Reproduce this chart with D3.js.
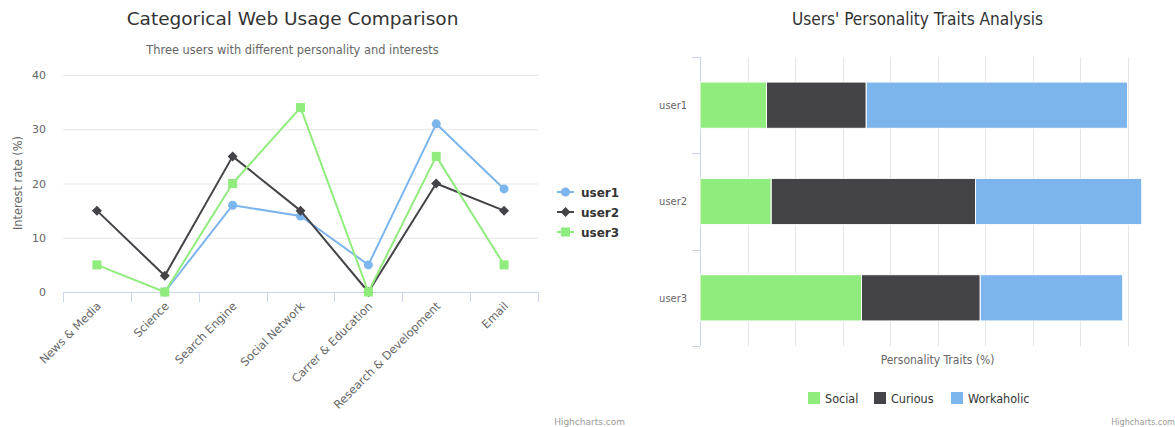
<!DOCTYPE html>
<html><head><meta charset="utf-8">
<script src="https://cdn.jsdelivr.net/npm/d3@7"></script>
<style>
  body { margin: 0; background: #fff; }
  svg text { font-family: "DejaVu Sans", sans-serif; }
  .narrow text { font-family: "DejaVu Sans Condensed", "DejaVu Sans", sans-serif; }
</style>
</head>
<body>
<svg id="chart" width="1175" height="427"></svg>
<script>
// ---- Line chart data: interest rate (%) per web category ----
const categories = ["News & Media", "Science", "Search Engine", "Social Network",
                    "Carrer & Education", "Research & Development", "Email"];
const user1Interest = [null, 0, 16, 14, 5, 31, 19];
const user2Interest = [15, 3, 25, 15, 0, 20, 15];
const user3Interest = [5, 0, 20, 34, 0, 25, 5];
const interestTicks = [0, 10, 20, 30, 40];
const userNames = ["user1", "user2", "user3"];

// ---- Stacked bar data: personality traits (%) per user ----
const traitNames = ["Social", "Curious", "Workaholic"];
const socialTrait = [14, 15, 34];
const curiousTrait = [21, 43, 25];
const workaholicTrait = [55, 35, 30];
const traitTicks = [0, 10, 20, 30, 40, 50, 60, 70, 80, 90, 100];

const seriesColors = ["#7cb5ec", "#434348", "#90ed7d"];
const traitColors = ["#90ed7d", "#434348", "#7cb5ec"];

const svg = d3.select("#chart");

/* ================= Left: line chart ================= */
const L = svg.append("g");
L.append("text").attr("x", 292.5).attr("y", 25).attr("text-anchor", "middle")
  .attr("font-size", 18.5).attr("fill", "#333333").text("Categorical Web Usage Comparison");
L.append("text").attr("x", 292.5).attr("y", 54).attr("text-anchor", "middle")
  .attr("font-size", 11.4).attr("fill", "#666666").text("Three users with different personality and interests");

const x = d3.scaleBand().domain(categories).range([63, 538]).padding(0);
const y = d3.scaleLinear().domain([0, 40]).range([292, 75]);

// horizontal gridlines
L.append("g").selectAll("line").data(interestTicks.filter(t => t > 0)).join("line")
  .attr("x1", 63).attr("x2", 538).attr("y1", d => y(d) + 0.5).attr("y2", d => y(d) + 0.5)
  .attr("stroke", "#e6e6e6").attr("stroke-width", 1);

// y axis labels
const yAxis = d3.axisLeft(y).tickValues(interestTicks).tickSize(0).tickPadding(0);
const yg = L.append("g").attr("transform", "translate(46,0)").call(yAxis);
yg.select(".domain").remove();
yg.selectAll("text").attr("font-size", 11).attr("fill", "#666666").attr("font-family", "DejaVu Sans");

L.append("text").attr("transform", "translate(22,183) rotate(-90)").attr("text-anchor", "middle")
  .attr("font-size", 11.4).attr("fill", "#666666").text("Interest rate (%)");

// x axis line, ticks at category boundaries
L.append("line").attr("x1", 63).attr("x2", 538).attr("y1", 292.5).attr("y2", 292.5)
  .attr("stroke", "#ccd6eb");
const bounds = categories.map(c => x(c)).concat([x.range()[1]]);
L.append("g").selectAll("line").data(bounds).join("line")
  .attr("x1", d => Math.round(d) + 0.5).attr("x2", d => Math.round(d) + 0.5)
  .attr("y1", 292).attr("y2", 302).attr("stroke", "#ccd6eb");

// rotated category labels
L.append("g").selectAll("text").data(categories).join("text")
  .attr("transform", d => `translate(${x(d) + x.bandwidth() / 2 + 2},${304}) rotate(-45)`)
  .attr("text-anchor", "end").attr("font-size", 11.4).attr("fill", "#666666")
  .attr("dy", "0.35em").text(d => d);

// series
const seriesData = [user1Interest, user2Interest, user3Interest];
const cx = i => x(categories[i]) + x.bandwidth() / 2;
const line = d3.line().defined(d => d != null).x((d, i) => cx(i)).y(d => y(d));

function drawMarker(g, k, px, py) {
  if (k === 0) {
    g.append("circle").attr("cx", px).attr("cy", py).attr("r", 4.5).attr("fill", seriesColors[k]);
  } else if (k === 1) {
    const r = 5;
    g.append("path").attr("d", `M${px},${py - r}L${px + r},${py}L${px},${py + r}L${px - r},${py}Z`)
      .attr("fill", seriesColors[k]);
  } else {
    const h = 4.5;
    g.append("rect").attr("x", px - h).attr("y", py - h).attr("width", 2 * h).attr("height", 2 * h)
      .attr("fill", seriesColors[k]);
  }
}

seriesData.forEach((vals, k) => {
  const g = L.append("g");
  g.append("path").datum(vals).attr("d", line).attr("fill", "none")
    .attr("stroke", seriesColors[k]).attr("stroke-width", 2).attr("stroke-linejoin", "round");
  vals.forEach((v, i) => { if (v != null) drawMarker(g, k, cx(i), y(v)); });
});

// legend
userNames.forEach((name, k) => {
  const ly = 192 + k * 20;
  const g = L.append("g");
  g.append("line").attr("x1", 557).attr("x2", 574).attr("y1", ly).attr("y2", ly)
    .attr("stroke", seriesColors[k]).attr("stroke-width", 2);
  drawMarker(g, k, 565.5, ly);
  g.append("text").attr("x", 581).attr("y", ly + 4.5).attr("font-size", 12)
    .attr("font-weight", "bold").attr("fill", "#333333").text(name);
});

L.append("text").attr("x", 625).attr("y", 425).attr("text-anchor", "end")
  .attr("font-size", 9).attr("fill", "#999999").text("Highcharts.com");

/* ================= Right: stacked bar chart ================= */
const R = svg.append("g").attr("class", "narrow");
R.append("text").attr("x", 917.5).attr("y", 25).attr("text-anchor", "middle")
  .attr("font-size", 17.1).attr("fill", "#333333").text("Users' Personality Traits Analysis");

const bx = d3.scaleLinear().domain([0, 100]).range([700, 1175]);
const by = d3.scaleBand().domain(userNames).range([57, 346]).paddingInner(0.52).paddingOuter(0.26);

// vertical gridlines
R.append("g").selectAll("line").data(traitTicks.filter(t => t > 0)).join("line")
  .attr("x1", d => Math.round(bx(d)) + 0.5).attr("x2", d => Math.round(bx(d)) + 0.5)
  .attr("y1", 57).attr("y2", 346).attr("stroke", "#e6e6e6");

// category axis
R.append("line").attr("x1", 700.5).attr("x2", 700.5).attr("y1", 57).attr("y2", 346).attr("stroke", "#ccd6eb");
const bandEdges = d3.range(0, 4).map(i => 57 + i * (346 - 57) / 3);
R.append("g").selectAll("line").data(bandEdges).join("line")
  .attr("x1", 692).attr("x2", 700).attr("y1", d => Math.round(d) + 0.5).attr("y2", d => Math.round(d) + 0.5)
  .attr("stroke", "#ccd6eb");
R.append("g").selectAll("text").data(userNames).join("text")
  .attr("x", 687).attr("y", d => by(d) + by.bandwidth() / 2).attr("dy", "0.35em")
  .attr("text-anchor", "end").attr("font-size", 11).attr("fill", "#666666").text(d => d);

// stacked segments
const traitRows = userNames.map((u, i) => ({
  user: u, Social: socialTrait[i], Curious: curiousTrait[i], Workaholic: workaholicTrait[i]
}));
const stacked = d3.stack().keys(traitNames)(traitRows);
stacked.forEach((layer, k) => {
  R.append("g").selectAll("rect").data(layer).join("rect")
    .attr("x", d => bx(d[0])).attr("width", d => bx(d[1]) - bx(d[0]))
    .attr("y", d => by(d.data.user)).attr("height", by.bandwidth())
    .attr("fill", traitColors[k]).attr("stroke", "#ffffff").attr("stroke-width", 1);
});

R.append("text").attr("x", 937.5).attr("y", 364).attr("text-anchor", "middle")
  .attr("font-size", 12).attr("fill", "#666666").text("Personality Traits (%)");

// legend
const legendX = [808, 874, 951];
traitNames.forEach((name, k) => {
  R.append("rect").attr("x", legendX[k]).attr("y", 392).attr("width", 12).attr("height", 12)
    .attr("fill", traitColors[k]);
  R.append("text").attr("x", legendX[k] + 17).attr("y", 403).attr("font-size", 12.5)
    .attr("fill", "#333333").text(name);
});

R.append("text").attr("x", 1175).attr("y", 425).attr("text-anchor", "end")
  .attr("font-size", 9).attr("fill", "#999999").text("Highcharts.com");
</script>
</body></html>
